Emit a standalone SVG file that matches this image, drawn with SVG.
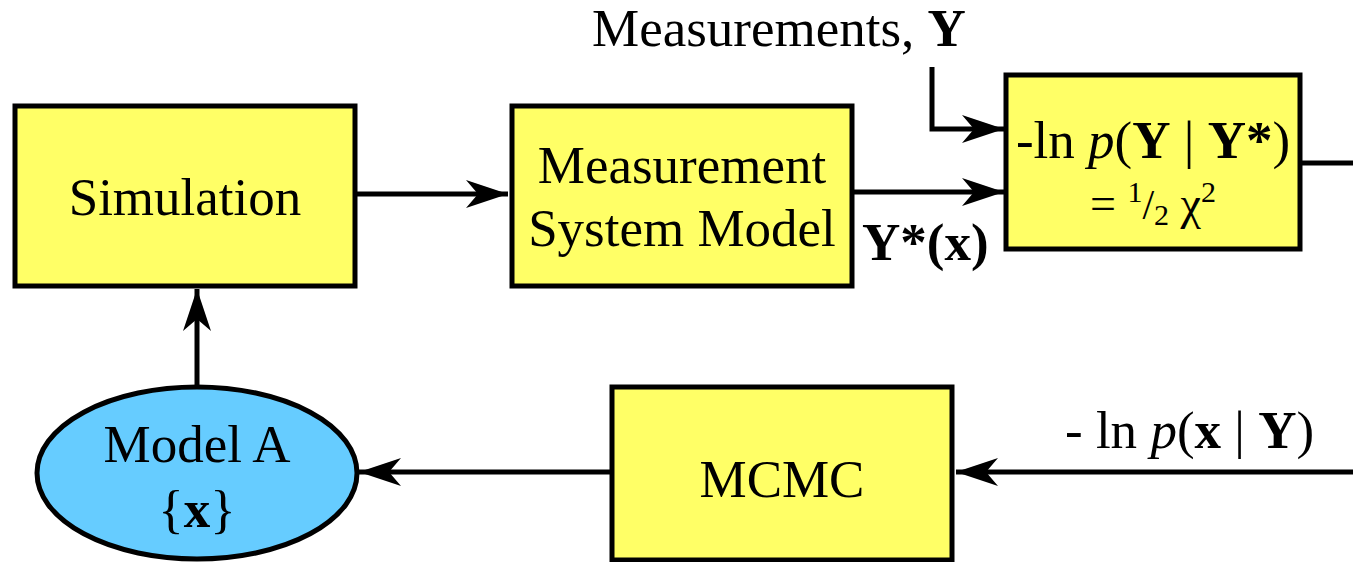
<svg xmlns="http://www.w3.org/2000/svg" width="1353" height="562" viewBox="0 0 1353 562">
<style>
.box{fill:#FFFF66;stroke:#000;stroke-width:5}
.ell{fill:#66CCFF;stroke:#000;stroke-width:5}
.ln{fill:none;stroke:#000;stroke-width:5}
text{font-family:"Liberation Serif","Times New Roman",serif;font-size:53px;fill:#000}
.b{font-weight:bold}
.i{font-style:italic}
</style>
<defs>
<marker id="ah" markerUnits="userSpaceOnUse" markerWidth="46" markerHeight="32" refX="44" refY="16" orient="auto" viewBox="0 0 46 32">
<path d="M44,16 L2,2 L14,16 L2,30 Z" fill="#000"/>
</marker>
</defs>
<rect width="1353" height="562" fill="#fff"/>
<g id="connectors">
<line class="ln" x1="355" y1="194" x2="508" y2="194" marker-end="url(#ah)"/>
<line class="ln" x1="852" y1="192" x2="1004" y2="192" marker-end="url(#ah)"/>
<polyline class="ln" points="932,67 932,129 1004,129" marker-end="url(#ah)"/>
<line class="ln" x1="1300" y1="163" x2="1353" y2="163"/>
<line class="ln" x1="1353" y1="472" x2="956" y2="472" marker-end="url(#ah)"/>
<line class="ln" x1="612" y1="472" x2="359" y2="472" marker-end="url(#ah)"/>
<line class="ln" x1="197" y1="385" x2="197" y2="289" marker-end="url(#ah)"/>
</g>
<g id="measurements-label">
<text x="592" y="46">Measurements, <tspan class="b">Y</tspan></text>
</g>
<g id="simulation">
<rect class="box" x="15" y="106" width="340" height="180"/>
<text x="185" y="215" text-anchor="middle">Simulation</text>
</g>
<g id="msm">
<rect class="box" x="512" y="106" width="340" height="180"/>
<text x="682" y="183" text-anchor="middle">Measurement</text>
<text x="682" y="246" text-anchor="middle">System Model</text>
</g>
<g id="ystar-label">
<text x="862" y="260" class="b">Y*(x)</text>
</g>
<g id="likelihood">
<rect class="box" x="1006" y="75" width="294" height="174"/>
<text x="1153" y="158" text-anchor="middle">-ln <tspan class="i">p</tspan>(<tspan class="b">Y</tspan> | <tspan class="b">Y*</tspan>)</text>
<text x="1153" y="219" text-anchor="middle" style="font-size:46px">= <tspan style="font-size:30px" dy="-17">1</tspan><tspan style="font-size:42px" dy="17">/</tspan><tspan style="font-size:30px" dy="6">2</tspan><tspan dy="-6"> χ</tspan><tspan style="font-size:30px" dy="-17">2</tspan></text>
</g>
<g id="posterior-label">
<text x="1065" y="448">- ln <tspan class="i">p</tspan>(<tspan class="b">x</tspan> | <tspan class="b">Y</tspan>)</text>
</g>
<g id="mcmc">
<rect class="box" x="612" y="387" width="340" height="173"/>
<text x="782" y="497" text-anchor="middle">MCMC</text>
</g>
<g id="modelA">
<ellipse class="ell" cx="197" cy="473" rx="160" ry="86"/>
<text x="197" y="462" text-anchor="middle">Model A</text>
<text x="197" y="527" text-anchor="middle">{<tspan class="b">x</tspan>}</text>
</g>
</svg>
